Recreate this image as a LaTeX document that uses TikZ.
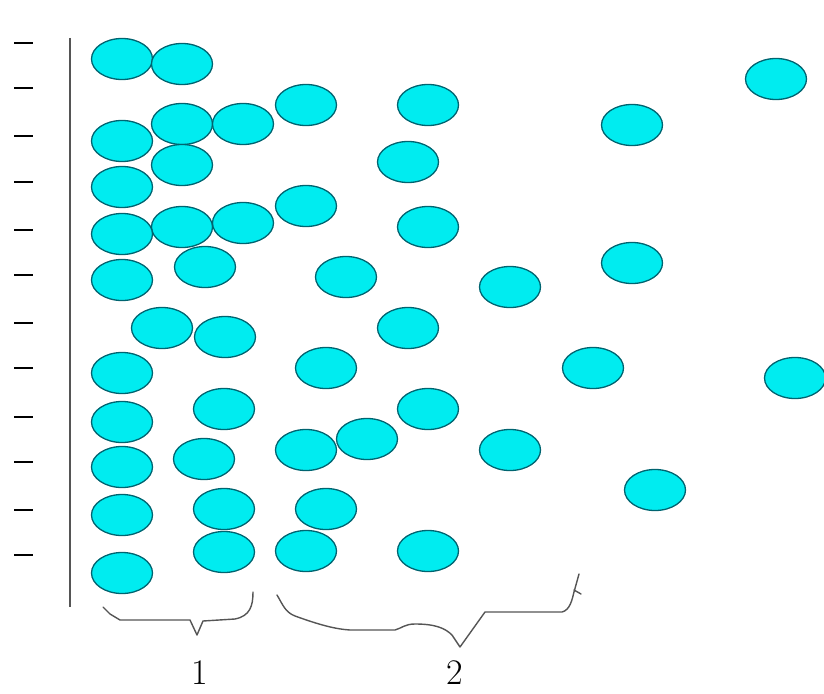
\documentclass[tikz,border=0pt]{standalone}
\usetikzlibrary{shapes.geometric}
\definecolor{ballfill}{RGB}{0,236,240}
\definecolor{ballline}{RGB}{0,100,112}
\definecolor{axisgray}{RGB}{85,85,85}
\begin{document}
\begin{tikzpicture}[x=1pt,y=-1pt,
  ball/.style={ellipse,draw=ballline,fill=ballfill,line width=1.3pt,minimum width=61pt,minimum height=41pt,inner sep=0pt},
  tick/.style={line width=2.2pt,black},
  axisline/.style={line width=1.5pt,axisgray},
  bracepath/.style={line width=1.4pt,axisgray,line join=round,line cap=round},
  lbl/.style={font=\fontsize{36}{36}\selectfont,inner sep=0pt,anchor=base}]
\useasboundingbox (0,0) rectangle (824,693);
% axis
\coordinate (axtop) at (70,38);
\coordinate (axbot) at (70,607);
\draw[axisline] (axtop) -- (axbot);
\foreach \y [count=\i] in {43,88,136,182,230,275,323,368,417,462,510,555}{
  \coordinate (tl\i) at (14,\y);
  \coordinate (tr\i) at (33,\y);
  \draw[tick] (tl\i) -- (tr\i);
}
% balls
\foreach \x/\y [count=\i] in {
 122/59, 182/64, 776/79, 306/105, 428/105, 182/124, 243/124, 632/125,
 122/141, 182/165, 408/162, 122/187, 306/206, 182/227, 243/223, 122/234,
 428/227, 205/267, 122/280, 346/277, 510/287, 632/263, 162/328, 225/337,
 408/328, 122/373, 326/368, 593/368, 795/378, 122/422, 224/409, 428/409,
 306/450, 367/439, 204/459, 122/467, 510/450, 655/490, 122/515, 224/509,
 326/509, 224/552, 306/551, 428/551, 122/573}{
  \node[ball] (b\i) at (\x,\y) {};
}
% braces
\coordinate (br1s) at (103,607);
\coordinate (br1e) at (253,592);
\draw[bracepath] (br1s) -- (110,614) -- (120,620) -- (190,620) -- (197,635) -- (203,621) -- (235,619)
  .. controls (250,616) and (253,606) .. (br1e);
\coordinate (br2s) at (277,595);
\coordinate (br2e) at (579,574);
\draw[bracepath] (br2s) .. controls (283,605) and (285,612) .. (295,616)
  .. controls (320,625) and (335,629) .. (350,630) -- (395,630)
  .. controls (402,628) and (405,624) .. (415,624)
  .. controls (435,624) and (445,628) .. (452,635) -- (460,647) -- (485,612) -- (562,612)
  .. controls (570,610) and (572,600) .. (574,592) -- (br2e);
\coordinate (hk1) at (574,590);
\coordinate (hk2) at (581,594);
\draw[bracepath] (hk1) -- (hk2);
% labels
\node[lbl] (l1) at (200,684) {1};
\node[lbl] (l2) at (455,684) {2};
\end{tikzpicture}
\end{document}
